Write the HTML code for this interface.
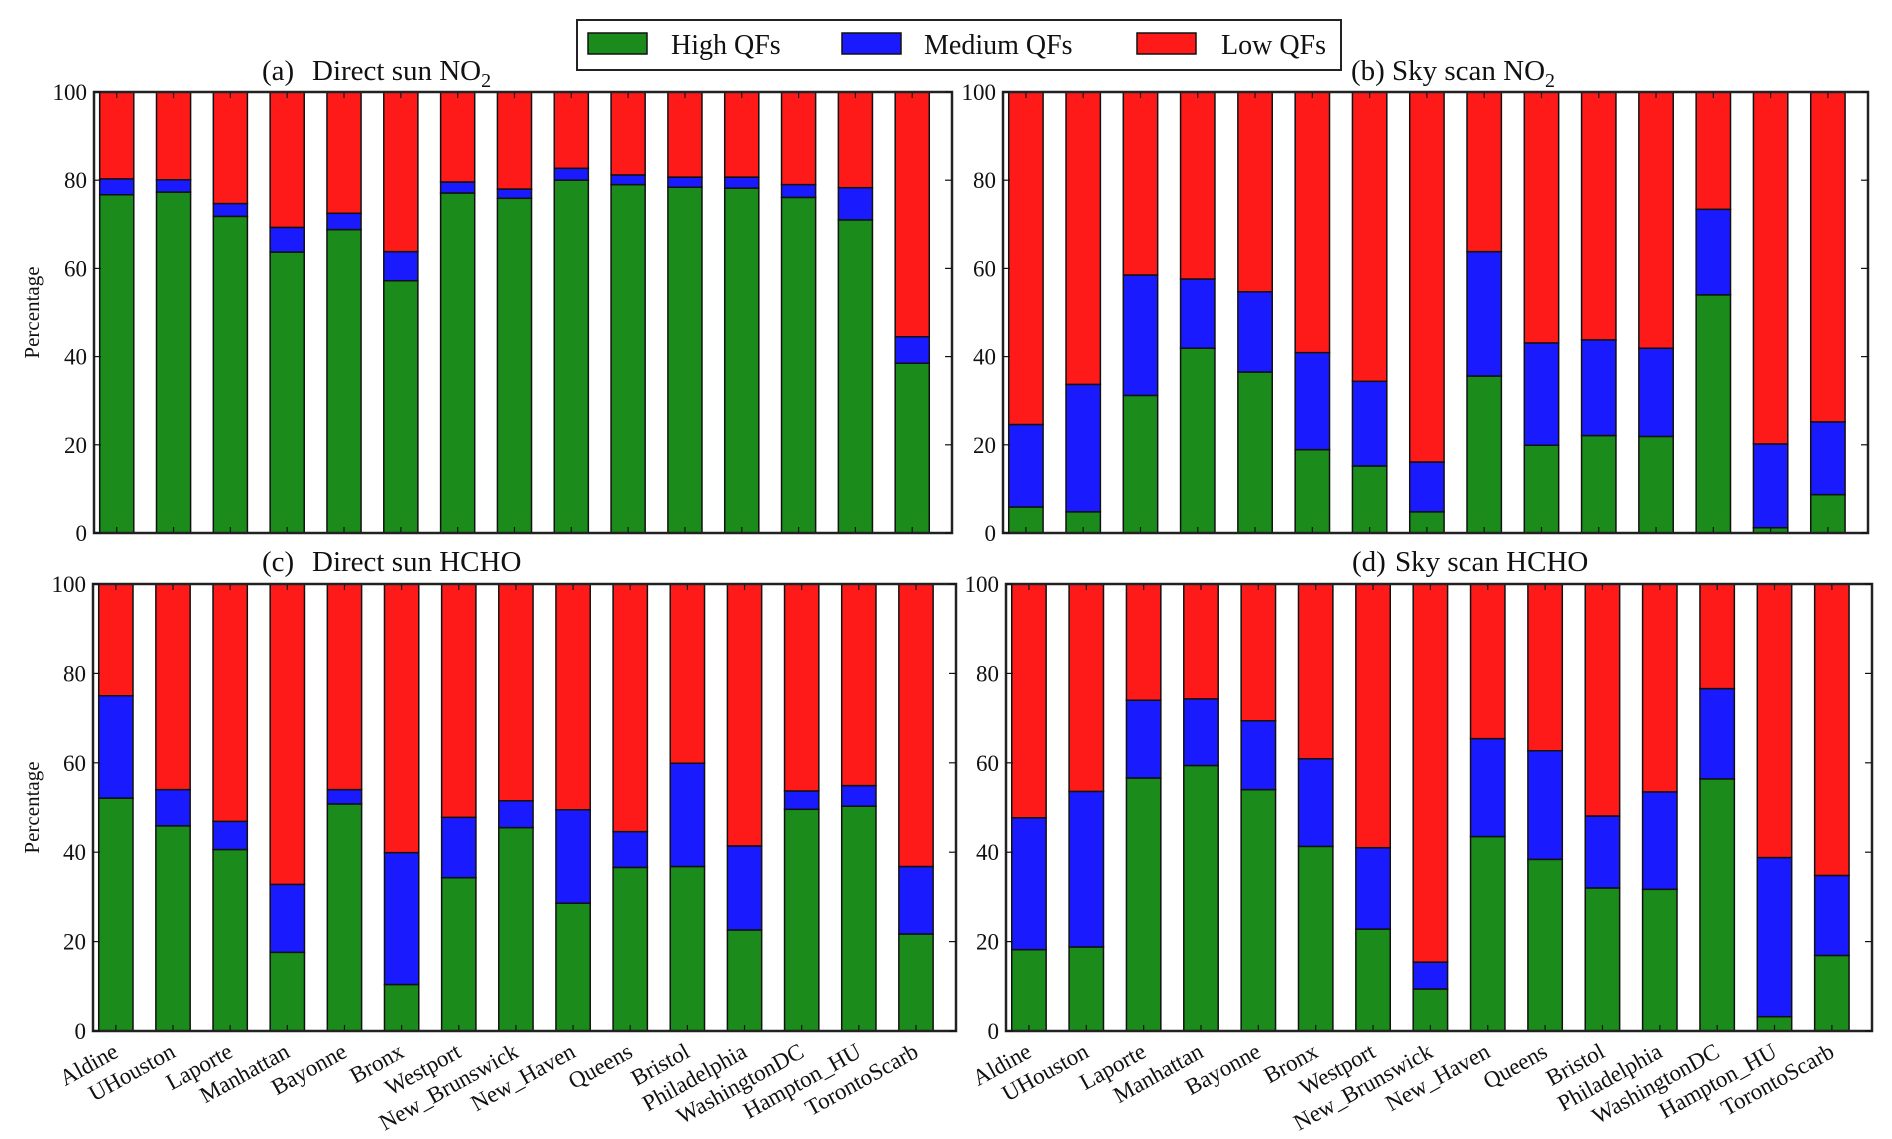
<!DOCTYPE html>
<html><head><meta charset="utf-8"><style>
html,body{margin:0;padding:0;background:#fff}
svg{display:block}
text{font-family:"Liberation Serif",serif;fill:#111}
</style></head><body>
<svg id="fig" width="1892" height="1139" viewBox="0 0 1892 1139">
<g>
<rect x="577" y="20" width="764" height="50" fill="#fff" stroke="#222" stroke-width="2"/>
<rect x="588" y="33" width="59" height="21" fill="#1b8c1b" stroke="#111" stroke-width="1.5"/>
<text x="671" y="54" font-size="28">High QFs</text>
<rect x="842" y="33" width="59" height="21" fill="#1a1aff" stroke="#111" stroke-width="1.5"/>
<text x="924" y="54" font-size="28">Medium QFs</text>
<rect x="1137" y="33" width="59" height="21" fill="#ff1a1a" stroke="#111" stroke-width="1.5"/>
<text x="1221" y="54" font-size="28">Low QFs</text>
</g>
</svg>
<script>
const sites = ["Aldine","UHouston","Laporte","Manhattan","Bayonne","Bronx","Westport","New_Brunswick","New_Haven","Queens","Bristol","Philadelphia","WashingtonDC","Hampton_HU","TorontoScarb"];
const yTicks = [0,20,40,60,80,100];
// high QF %, and cumulative high+medium %
const aHigh = [76.7,77.3,71.8,63.7,68.8,57.2,77.1,75.9,80.0,79.0,78.4,78.2,76.1,71.0,38.5];
const aHighMed = [80.3,80.1,74.7,69.3,72.5,63.8,79.6,78.0,82.7,81.2,80.7,80.7,79.0,78.3,44.5];
const bHigh = [5.9,4.8,31.2,41.9,36.5,18.9,15.2,4.8,35.6,19.9,22.1,21.9,54.0,1.2,8.7];
const bHighMed = [24.6,33.7,58.5,57.6,54.7,40.9,34.4,16.1,63.8,43.1,43.8,41.9,73.4,20.2,25.2];
const cHigh = [52.1,45.9,40.6,17.6,50.8,10.4,34.3,45.5,28.6,36.6,36.8,22.6,49.6,50.3,21.7];
const cHighMed = [75.0,54.0,46.9,32.8,54.0,39.9,47.8,51.5,49.5,44.6,59.9,41.4,53.7,54.9,36.8];
const dHigh = [18.2,18.8,56.6,59.4,54.0,41.3,22.8,9.4,43.5,38.4,32.0,31.7,56.4,3.2,16.9];
const dHighMed = [47.7,53.6,74.0,74.3,69.4,60.9,41.0,15.4,65.4,62.7,48.1,53.5,76.6,38.8,34.8];

const NS="http://www.w3.org/2000/svg";
const svg=document.getElementById('fig');
function mk(tag,attrs,parent){const e=document.createElementNS(NS,tag);for(const k in attrs)e.setAttribute(k,attrs[k]);(parent||svg).appendChild(e);return e;}

const panels=[
 {id:'a',L:94,R:952,T:92,B:533,high:aHigh,hm:aHighMed,pre:'(a)',preX:262,mainX:312,main:'Direct sun NO',sub:true,ty:80,ylab:true,xlab:false},
 {id:'b',L:1003,R:1868,T:92,B:533,high:bHigh,hm:bHighMed,pre:'(b)',preX:1351,mainX:1392,main:'Sky scan NO',sub:true,ty:80,ylab:false,xlab:false},
 {id:'c',L:93,R:956,T:584,B:1031,high:cHigh,hm:cHighMed,pre:'(c)',preX:262,mainX:312,main:'Direct sun HCHO',sub:false,ty:571,ylab:true,xlab:true},
 {id:'d',L:1006,R:1872,T:584,B:1031,high:dHigh,hm:dHighMed,pre:'(d)',preX:1352,mainX:1395,main:'Sky scan HCHO',sub:false,ty:571,ylab:false,xlab:true}
];
panels.forEach(p=>{
  const g=mk('g',{});
  
  
  const n=sites.length, unit=(p.R-p.L)/(n+0.1), bw=0.6*unit;
  const x=i=>p.L+(i+0.1)*unit;
  const y=v=>p.B-(v/100)*(p.B-p.T);
  for(let i=0;i<n;i++){
    const h=p.high[i], m=p.hm[i]-p.high[i];
    const segs=[[0,h,'#1b8c1b','high'],[h,h+m,'#1a1aff','medium'],[h+m,100,'#ff1a1a','low']];
    segs.forEach(s=>{
      const r=mk('rect',{x:x(i),y:y(s[1]),width:bw,height:Math.max(0,y(s[0])-y(s[1])),fill:s[2],stroke:'#111','stroke-width':1.5},g);
      
      
    });
    const cx=x(i)+bw/2;
    mk('line',{x1:cx,x2:cx,y1:p.B,y2:p.B-6,stroke:'#111','stroke-width':1.2},g);
    mk('line',{x1:cx,x2:cx,y1:p.T,y2:p.T+6,stroke:'#111','stroke-width':1.2},g);
    if(p.xlab){
      const t=mk('text',{x:cx,y:p.B+26,'font-size':23,'text-anchor':'end',transform:`rotate(-29 ${cx} ${p.B+18})`},g);
      
      
      t.textContent=sites[i];
    }
  }
  const frame=mk('rect',{x:p.L,y:p.T,width:p.R-p.L,height:p.B-p.T,fill:'none',stroke:'#222','stroke-width':2.5},g);
  
  
  yTicks.forEach(v=>{
    mk('line',{x1:p.L,x2:p.L+7,y1:y(v),y2:y(v),stroke:'#111','stroke-width':1.2},g);
    mk('line',{x1:p.R,x2:p.R-7,y1:y(v),y2:y(v),stroke:'#111','stroke-width':1.2},g);
    const t=mk('text',{x:p.L-7,y:y(v)+8,'font-size':23,'text-anchor':'end'},g);
    
    
    t.textContent=v;
  });
  if(p.ylab){
    const cy=(p.T+p.B)/2;
    const t=mk('text',{x:32,y:cy,'font-size':21,'text-anchor':'middle',transform:`rotate(-90 32 ${cy})`,dy:7},g);
    
    
    t.textContent='Percentage';
  }
  const tt=mk('text',{x:p.preX,y:p.ty,'font-size':29},g);
  
  
  const t1=mk('tspan',{},tt); t1.textContent=p.pre;
  const t2=mk('tspan',{x:p.mainX},tt); t2.textContent=p.main;
  if(p.sub){const t3=mk('tspan',{'font-size':20,dy:7},tt); t3.textContent='2';}
});
</script>
</body></html>
